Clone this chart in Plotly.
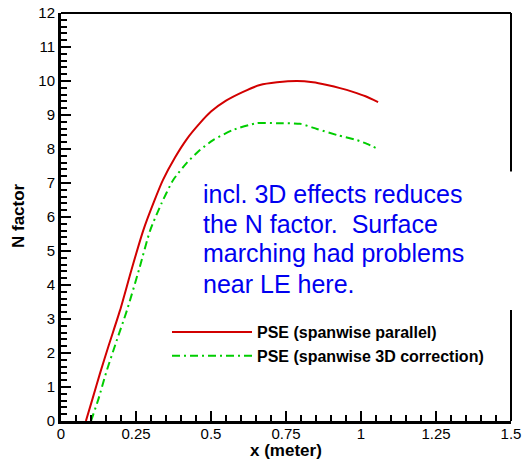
import plotly.graph_objects as go

# Data
x_parallel = [0.083, 0.105, 0.13, 0.16, 0.197, 0.235, 0.274, 0.31, 0.34, 0.38, 0.42, 0.463, 0.5, 0.55, 0.607, 0.663, 0.72, 0.787, 0.84, 0.887, 0.93, 0.973, 1.015, 1.057]
n_parallel = [0.0, 0.65, 1.4, 2.25, 3.26, 4.45, 5.6, 6.45, 7.09, 7.75, 8.3, 8.76, 9.1, 9.42, 9.68, 9.88, 9.96, 10.0, 9.96, 9.88, 9.79, 9.68, 9.55, 9.38]

x_corr = [0.1, 0.125, 0.15, 0.185, 0.22, 0.26, 0.297, 0.335, 0.374, 0.42, 0.463, 0.507, 0.573, 0.653, 0.72, 0.797, 0.853, 0.92, 0.987, 1.02, 1.057]
n_corr = [0.0, 0.65, 1.41, 2.35, 3.26, 4.45, 5.6, 6.4, 7.09, 7.6, 7.97, 8.26, 8.56, 8.76, 8.76, 8.74, 8.59, 8.41, 8.26, 8.15, 8.0]

x_ticks = [0, 0.25, 0.5, 0.75, 1, 1.25, 1.5]
x_ticklabels = ["0", "0.25", "0.5", "0.75", "1", "1.25", "1.5"]
y_ticks = list(range(0, 13))

note_lines = ["incl. 3D effects reduces", "the N factor.  Surface", "marching had problems", "near LE here."]
note_y = [6.67, 5.79, 4.93, 4.02]

FONT = "Liberation Sans, Arial, sans-serif"

fig = go.Figure()
fig.add_trace(go.Scatter(x=x_parallel, y=n_parallel, mode="lines",
                         name="PSE (spanwise parallel)",
                         line=dict(color="rgb(210,0,0)", width=2, shape="spline", smoothing=0.6)))
fig.add_trace(go.Scatter(x=x_corr, y=n_corr, mode="lines",
                         name="PSE (spanwise 3D correction)",
                         line=dict(color="rgb(0,205,0)", width=2, dash="8px,4px,2px,4px", shape="spline", smoothing=0.6)))

axis_common = dict(
    showgrid=False, zeroline=False, showline=True, linecolor="black", linewidth=3,
    ticks="inside", ticklen=10, tickwidth=2, tickcolor="black", automargin=False,
    tickfont=dict(family=FONT, size=15, color="black"),
)

fig.update_xaxes(range=[0, 1.5], tickvals=x_ticks, ticktext=x_ticklabels, ticklabelstandoff=-3,
                 minor=dict(dtick=0.05, ticks="inside", ticklen=6, tickwidth=1.5, tickcolor="black"),
                 **axis_common)
fig.update_yaxes(range=[0, 12], tickvals=y_ticks,
                 minor=dict(dtick=0.2, ticks="inside", ticklen=6, tickwidth=1.5, tickcolor="black"),
                 **axis_common)

shapes = [
    dict(type="line", xref="paper", yref="paper", x0=0, x1=1, y0=1, y1=1, line=dict(color="black", width=2)),
    dict(type="line", xref="paper", yref="paper", x0=1, x1=1, y0=0, y1=1, line=dict(color="black", width=2)),
    dict(type="rect", xref="paper", yref="paper", x0=0.3, x1=1.02, y0=(421-310)/408, y1=(421-171.5)/408,
         fillcolor="white", line=dict(width=0)),
]

annotations = []
for txt, yy in zip(note_lines, note_y):
    annotations.append(dict(x=0.47, y=yy, xref="x", yref="y", text=txt, showarrow=False,
                            xanchor="left", yanchor="middle", borderpad=0,
                            font=dict(family=FONT, size=25, color="rgb(0,0,240)")))

# axis titles
annotations.append(dict(x=0.5, y=-(450 - 421) / 408, xref="paper", yref="paper", text="x (meter)",
                        showarrow=False, xanchor="center", yanchor="middle",
                        font=dict(family=FONT, size=17, color="black", weight="bold")))
annotations.append(dict(x=-(61 - 18) / 450, y=(421 - 216) / 408, xref="paper", yref="paper", text="N factor",
                        showarrow=False, xanchor="center", yanchor="middle", textangle=-90,
                        font=dict(family=FONT, size=17, color="black", weight="bold")))

fig.update_layout(
    width=523, height=459,
    margin=dict(l=61, r=12, t=13, b=38),
    paper_bgcolor="white", plot_bgcolor="white",
    showlegend=True,
    legend=dict(x=(172-61-5)/450, y=(421-315)/408, xanchor="left", yanchor="top",
                bgcolor="rgba(0,0,0,0)", borderwidth=0, itemwidth=80,
                font=dict(family=FONT, size=16, color="black", weight="bold"),
                tracegroupgap=0),
    shapes=shapes,
    annotations=annotations,
)

fig.write_html("out.html")
